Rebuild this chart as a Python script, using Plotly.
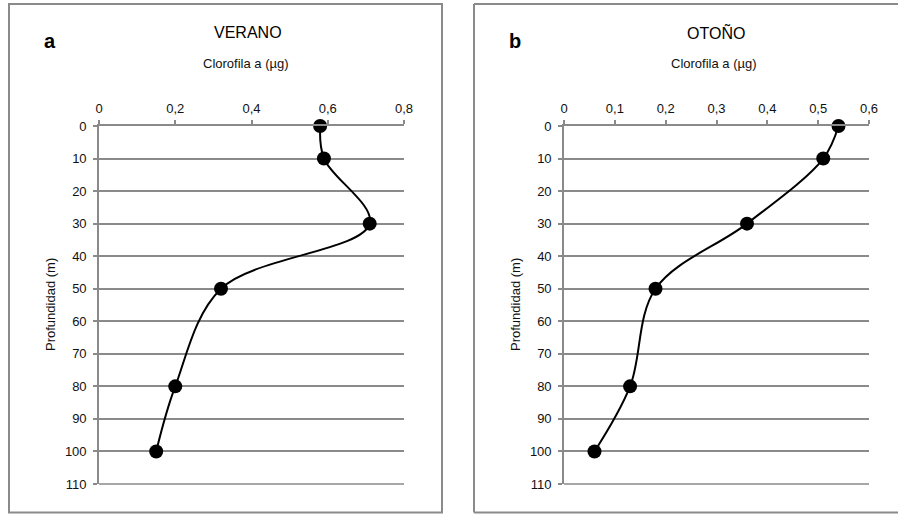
import plotly.graph_objects as go

# Depth profile of chlorophyll a for two seasons
depth = [0, 10, 30, 50, 80, 100]
chl_verano = [0.58, 0.59, 0.71, 0.32, 0.20, 0.15]
chl_otono = [0.54, 0.51, 0.36, 0.18, 0.13, 0.06]

depth_ticks = list(range(0, 111, 10))
x_ticks_a = [0, 0.2, 0.4, 0.6, 0.8]
x_labels_a = ["0", "0,2", "0,4", "0,6", "0,8"]
x_ticks_b = [0, 0.1, 0.2, 0.3, 0.4, 0.5, 0.6]
x_labels_b = ["0", "0,1", "0,2", "0,3", "0,4", "0,5", "0,6"]

W, H = 898, 514
FONT = "Liberation Sans, Arial, sans-serif"
GRID = "#8a8a8a"
FRAME = "#8a8a8a"
TXT = "#111"


def px(x):
    return x / W


def py(y):
    return 1 - y / H


fig = go.Figure()

panels = [
    dict(vals=chl_verano, x0=99, x1=404, rng=[0, 0.8],
         tv=x_ticks_a, tt=x_labels_a, letter="a", season="VERANO",
         box=(9, 442), cx=248),
    dict(vals=chl_otono, x0=564, x1=869, rng=[0, 0.6],
         tv=x_ticks_b, tt=x_labels_b, letter="b", season="OTOÑO",
         box=(474, None), cx=716),
]

top, bottom = 126, 484
frame_top, frame_bottom = 4, 512.5

for i, p in enumerate(panels):
    suffix = "" if i == 0 else str(i + 1)
    fig.add_trace(go.Scatter(
        x=p["vals"], y=depth, xaxis="x" + suffix, yaxis="y" + suffix,
        mode="lines+markers",
        line=dict(color="black", width=2, shape="spline", smoothing=1),
        marker=dict(color="black", size=14),
        cliponaxis=False, showlegend=False, hoverinfo="x+y",
    ))
    fig.update_layout(**{
        "xaxis" + suffix: dict(
            domain=[px(p["x0"]), px(p["x1"])], range=p["rng"],
            anchor="y" + suffix, side="top", automargin=False,
            tickvals=p["tv"], ticktext=p["tt"],
            showgrid=False, zeroline=False,
            showline=True, linecolor=GRID, linewidth=1.6,
            ticks="outside", ticklen=4, tickcolor=GRID, tickwidth=1.5,
            tickfont=dict(family=FONT, size=13, color=TXT),
            ticklabelstandoff=2,
        ),
        "yaxis" + suffix: dict(
            domain=[py(bottom), py(top)], range=[110, 0],
            anchor="x" + suffix, automargin=False,
            tickvals=depth_ticks,
            showgrid=True, gridcolor=GRID, gridwidth=1.6,
            zeroline=False,
            showline=True, linecolor=GRID, linewidth=1.6,
            ticks="outside", ticklen=4, tickcolor=GRID, tickwidth=1.5,
            tickfont=dict(family=FONT, size=13, color=TXT),
            ticklabelstandoff=4,
        ),
    })
    # bottom gridline at 110 m
    fig.add_shape(type="line", xref="paper", yref="paper",
                  x0=px(p["x0"]), x1=px(p["x1"]), y0=py(bottom), y1=py(bottom),
                  line=dict(color=GRID, width=1.6))
    # panel frame (the second one runs past the right edge)
    bx0, bx1 = p["box"]
    if bx1 is not None:
        fig.add_shape(type="rect", xref="paper", yref="paper",
                      x0=px(bx0), x1=px(bx1), y0=py(frame_bottom), y1=py(frame_top),
                      line=dict(color=FRAME, width=2))
    else:
        for (xa, ya, xb, yb) in [(bx0, frame_top, W, frame_top),
                                 (bx0, frame_top, bx0, frame_bottom),
                                 (bx0, frame_bottom, W, frame_bottom)]:
            fig.add_shape(type="line", xref="paper", yref="paper",
                          x0=px(xa), y0=py(ya), x1=px(xb), y1=py(yb),
                          line=dict(color=FRAME, width=2))
    # panel letter, season, axis titles
    common = dict(xref="paper", yref="paper", showarrow=False,
                  xanchor="center", yanchor="middle")
    fig.add_annotation(x=px(bx0 + 41), y=py(41),
                       text="<b>%s</b>" % p["letter"],
                       font=dict(family=FONT, size=20, color="black"), **common)
    fig.add_annotation(x=px(p["cx"]), y=py(32), text=p["season"],
                       font=dict(family=FONT, size=16, color="black"), **common)
    fig.add_annotation(x=px(p["cx"] - 2), y=py(63), text="Clorofila a (µg)",
                       font=dict(family=FONT, size=13, color=TXT), **common)
    fig.add_annotation(x=px(p["x0"] - 49), y=py(305), text="Profundidad (m)",
                       textangle=-90,
                       font=dict(family=FONT, size=13, color=TXT), **common)

fig.update_layout(
    template="none",
    width=W, height=H,
    margin=dict(l=0, r=0, t=0, b=0, pad=0, autoexpand=False),
    paper_bgcolor="white", plot_bgcolor="white",
    showlegend=False,
)

fig.write_html("out.html")
